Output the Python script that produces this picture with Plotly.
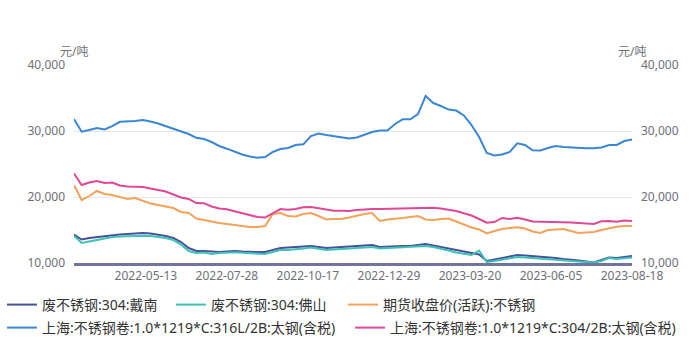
import pandas as pd
import plotly.graph_objects as go

# ---- calendar (trading days incl. make-up working days) ----
holidays = ["2022-04-04", "2022-04-05", "2022-05-02", "2022-05-03", "2022-05-04",
            "2022-06-03", "2022-09-12", "2022-10-03", "2022-10-04", "2022-10-05",
            "2022-10-06", "2022-10-07", "2023-01-02", "2023-01-23", "2023-01-24",
            "2023-01-25", "2023-01-26", "2023-01-27", "2023-04-05", "2023-05-01",
            "2023-05-02", "2023-05-03", "2023-06-22", "2023-06-23"]
makeup_days = ["2022-04-02", "2022-04-24", "2022-05-07", "2022-10-08", "2022-10-09",
               "2023-01-28", "2023-01-29", "2023-04-23", "2023-05-06", "2023-06-25"]
start_date, end_date = "2022-03-07", "2023-08-18"
bdays = [d.strftime("%Y-%m-%d") for d in pd.bdate_range(start_date, end_date)]
categories = sorted((set(bdays) - set(holidays)) | set(makeup_days))
sample_dates = categories[::5]          # one reading every 5 trading days

tick_labels = ["2022-05-13", "2022-07-28", "2022-10-17", "2022-12-29",
               "2023-03-20", "2023-06-05", "2023-08-18"]

# ---- series (yuan/ton) ----
dainan_304 = [14320, 13560, 13790, 13940, 14090, 14240, 14320, 14390, 14470, 14550,
              14470, 14320, 14090, 13790, 13180, 12270, 11820, 11820, 11740, 11670,
              11740, 11820, 11740, 11670, 11670, 11670, 11970, 12270, 12350, 12420,
              12500, 12580, 12420, 12270, 12350, 12420, 12500, 12580, 12650, 12730,
              12420, 12500, 12580, 12580, 12580, 12730, 12880, 12650, 12420, 12120,
              11890, 11670, 11520, 11290, 10300, 10530, 10760, 10980, 11210, 11140,
              11060, 10910, 10830, 10760, 10610, 10530, 10380, 10230, 10080, 10450,
              10830, 10760, 10910, 11060]
foshan_304 = [14090, 13030, 13260, 13480, 13710, 13940, 14010, 14090, 14090, 14120,
              14090, 13940, 13790, 13480, 12800, 11820, 11520, 11590, 11360, 11520,
              11590, 11640, 11550, 11520, 11440, 11360, 11670, 11970, 11970, 12050,
              12200, 12350, 12120, 11970, 12050, 12120, 12120, 12270, 12350, 12420,
              12200, 12270, 12350, 12350, 12420, 12500, 12580, 12420, 12200, 11890,
              11590, 11360, 11210, 11890, 10150, 10300, 10530, 10680, 10910, 10830,
              10760, 10610, 10530, 10450, 10380, 10300, 10230, 10150, 10080, 10300,
              10760, 10610, 10680, 10830]
futures_ss = [21820, 19540, 20150, 20910, 20450, 20300, 20000, 19700, 19850, 19390,
              19010, 18790, 18560, 18330, 17730, 17580, 16740, 16510, 16210, 16060,
              15910, 15760, 15530, 15450, 15450, 15610, 17420, 17580, 17120, 17040,
              17420, 17580, 17120, 16590, 16670, 16670, 16890, 17200, 17420, 17580,
              16360, 16590, 16670, 16820, 16970, 17120, 16590, 16510, 16670, 16740,
              16290, 15830, 15380, 15080, 14470, 14850, 15150, 15300, 15420, 15230,
              14770, 14550, 15000, 15080, 15150, 14850, 14550, 14620, 14700, 15000,
              15300, 15500, 15610, 15610]
coil_316l = [31800, 29900, 30150, 30450, 30230, 30750, 31400, 31440, 31500, 31650,
             31450, 31130, 30750, 30400, 30000, 29540, 28970, 28790, 28330, 27730,
             27320, 26850, 26440, 26130, 25950, 26060, 26820, 27270, 27420, 27880,
             27980, 29240, 29620, 29390, 29240, 29010, 28860, 29010, 29390, 29850,
             30070, 30070, 31060, 31770, 31770, 32570, 35300, 34240, 33790, 33250,
             33100, 32350, 30900, 29090, 26670, 26290, 26440, 26820, 28130, 27880,
             27090, 27040, 27420, 27730, 27570, 27500, 27390, 27380, 27380, 27500,
             27880, 27880, 28480, 28710]
coil_304 = [23560, 21820, 22200, 22420, 22120, 22200, 21740, 21590, 21560, 21510,
            21290, 21030, 20830, 20380, 19920, 19700, 19090, 19060, 18560, 18260,
            18140, 17830, 17540, 17270, 16970, 16890, 17500, 18180, 18060, 18180,
            18440, 18480, 18300, 18100, 17920, 17910, 17880, 18030, 18150, 18170,
            18180, 18210, 18260, 18300, 18360, 18410, 18440, 18360, 18270, 18120,
            17880, 17530, 17200, 16670, 16110, 16210, 16820, 16670, 16850, 16590,
            16290, 16260, 16260, 16240, 16180, 16120, 16060, 15980, 15910, 16330,
            16360, 16260, 16440, 16360]

series_names = ["废不锈钢:304:戴南", "废不锈钢:304:佛山", "期货收盘价(活跃):不锈钢",
                "上海:不锈钢卷:1.0*1219*C:316L/2B:太钢(含税)",
                "上海:不锈钢卷:1.0*1219*C:304/2B:太钢(含税)"]
series_values = [dainan_304, foshan_304, futures_ss, coil_316l, coil_304]
series_colors = ["#46509b", "#3ec2b5", "#f4a259", "#3a87d6", "#e04795"]
series_yaxis = ["y", "y", "y", "y2", "y2"]

# legend slot of each series: (left px of the entry, centre-line px of its row)
legend_slots = [(2, 305), (171, 305), (343, 305), (2, 328), (350, 328)]

font_fam = "Noto Sans, Noto Sans CJK SC, sans-serif"
axis_grey = "#6e7079"
yrange = [10000, 40000]
yticks = [10000, 20000, 30000, 40000]

plot_l, plot_r, plot_t, plot_b = 74, 632, 65, 263
pw, ph = plot_r - plot_l, plot_b - plot_t


def px_x(px):
    return (px - plot_l) / pw


def px_y(py):
    return (plot_b - py) / ph


fig = go.Figure()
legend_layouts = {}
for i, (name, vals, color, yax) in enumerate(zip(series_names, series_values,
                                                 series_colors, series_yaxis)):
    assert len(vals) == len(sample_dates)
    leg_id = "legend" if i == 0 else f"legend{i + 1}"
    fig.add_trace(go.Scatter(x=sample_dates, y=vals, name=name, mode="lines",
                             line=dict(color=color, width=2), legend=leg_id,
                             yaxis=yax, showlegend=True))
    lx, ly = legend_slots[i]
    legend_layouts[leg_id] = dict(
        orientation="h", xref="paper", yref="paper",
        x=px_x(lx), y=px_y(ly), xanchor="left", yanchor="middle",
        font=dict(size=14, color="#333333", family=font_fam),
        bgcolor="rgba(0,0,0,0)")

fig.update_layout(
    width=692, height=342, showlegend=True,
    margin=dict(l=plot_l, r=692 - plot_r, t=plot_t, b=342 - plot_b, autoexpand=False),
    paper_bgcolor="white", plot_bgcolor="white",
    font=dict(family=font_fam, size=12, color=axis_grey),
    xaxis=dict(type="category", categoryorder="array", categoryarray=categories,
               range=[0, len(categories) - 1], tickmode="array",
               tickvals=tick_labels, ticktext=tick_labels, showgrid=False,
               showline=True, linecolor="#7274a0", linewidth=3, ticks="",
               tickfont=dict(size=12, color=axis_grey), zeroline=False),
    yaxis=dict(range=yrange, tickvals=yticks, tickformat=",", showgrid=True,
               gridcolor="#e0e6f1", gridwidth=1, zeroline=False, showline=False,
               ticks="", ticklabelstandoff=8, tickfont=dict(size=12, color=axis_grey)),
    yaxis2=dict(range=yrange, tickvals=yticks, tickformat=",", overlaying="y",
                side="right", showgrid=False, zeroline=False, showline=False,
                ticks="", ticklabelstandoff=8, tickfont=dict(size=12, color=axis_grey)),
    annotations=[
        dict(text="元/吨", xref="paper", yref="paper", x=0, y=px_y(51),
             xanchor="center", yanchor="middle", showarrow=False,
             font=dict(size=12, color=axis_grey)),
        dict(text="元/吨", xref="paper", yref="paper", x=1, y=px_y(51),
             xanchor="center", yanchor="middle", showarrow=False,
             font=dict(size=12, color=axis_grey)),
    ],
    **legend_layouts,
)

fig.write_html("out.html")
